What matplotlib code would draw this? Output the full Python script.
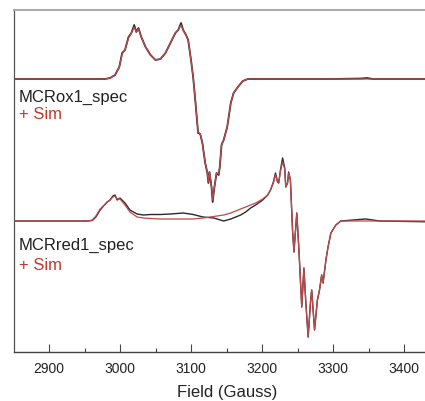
import matplotlib
matplotlib.use("Agg")
import matplotlib.pyplot as plt
import numpy as np

plt.rcParams['font.family'] = ['Liberation Sans', 'DejaVu Sans']

# MCRox1 spectrum (field in Gauss, intensity in arbitrary units)
ox1_field = [2851, 2979, 2986, 2993, 2999, 3003, 3007, 3012, 3016, 3020,
             3023, 3026, 3030, 3036, 3043, 3050, 3057, 3064, 3071, 3078,
             3082, 3086, 3089, 3093, 3096, 3100, 3103, 3106, 3110, 3113,
             3116, 3120, 3123, 3124.5, 3126, 3129, 3130.5, 3133, 3136, 3139,
             3140.5, 3143, 3146, 3151, 3156, 3160, 3166, 3173, 3180, 3300,
             3340, 3348, 3356, 3450]
ox1_exp = [0, 0, 1, 4, 12, 26, 29, 42, 46, 54,
           47, 51, 42, 32, 24, 19, 20, 26, 36, 46,
           49, 56, 49, 44, 39, 19, 2, -21, -54, -55,
           -64, -84, -94, -104, -93, -109, -123, -108, -94, -96,
           -88, -66, -61, -48, -24, -14, -8, -2, 0, 0,
           0.5, 1, 0, 0]
ox1_sim = [0, 0, 1, 4, 12, 25, 29, 41, 46, 52,
           47, 50, 42, 32, 24, 19, 20, 26, 36, 46,
           49, 54, 49, 44, 39, 19, 2, -21, -53, -55,
           -64, -84, -93, -103, -93, -108, -121, -108, -94, -95,
           -88, -66, -61, -48, -24, -14, -8, -2, 0, 0,
           0, 0, 0, 0]

# MCRred1 spectrum
red1_field = [2851, 2955, 2961, 2966, 2972, 2978, 2982, 2986, 2990, 2993,
              2996, 3000, 3007, 3014, 3024, 3033, 3043, 3057, 3071, 3089,
              3103, 3117, 3132, 3146, 3156, 3163, 3170, 3177, 3184, 3191,
              3201, 3208, 3212, 3216, 3219, 3222, 3223.5, 3226, 3229, 3232,
              3233.5, 3236, 3237.5, 3240, 3243, 3245, 3249, 3252, 3256, 3259,
              3261.5, 3265, 3268.5, 3270, 3274, 3278, 3281, 3284, 3286, 3290,
              3293, 3297, 3304, 3311, 3346, 3366, 3450]
red1_exp = [0, 0, 0.5, 4, 11, 16, 19, 21, 25, 26,
            21, 23, 18, 11, 7, 6, 6.5, 6.5, 7, 8,
            6.5, 4, 3, 0, 2, 4, 6, 9, 13, 16,
            21, 26, 31, 39, 48, 39, 38, 51, 63, 53,
            34, 38, 49, 41, -9, -31, 8, -29, -86, -47,
            -79, -116, -79, -69, -109, -79, -69, -54, -62, -39,
            -26, -12, -4, 0, 2, 0, -1]
red1_sim = [0, 0, 1, 5, 12, 16, 19, 21, 24, 25,
            22, 22, 16, 9, 4, 3, 2.5, 2, 2, 2,
            2, 3, 4.5, 6, 8, 10, 12, 14, 16, 18,
            22, 26, 31, 38, 46, 39, 38, 50, 59, 52,
            34, 38, 48, 41, -9, -31, 8, -29, -86, -47,
            -79, -116, -79, -69, -109, -79, -69, -54, -62, -39,
            -26, -12, -4, 0, 0, 0, 0]

xticks = [2900, 3000, 3100, 3200, 3300, 3400]
ox1_offset = 273
red1_offset = 131

fig = plt.figure(figsize=(4.25, 4.01), dpi=100)
# axes runs a little past the right edge of the picture (right spine cut off)
ax = fig.add_axes([14 / 425, 49 / 401, 426 / 425, 342 / 401])

exp_color = '#2a2a2a'
sim_color = '#c0484a'

ax.plot(ox1_field, np.array(ox1_exp) + ox1_offset, color=exp_color, lw=1.3)
ax.plot(ox1_field, np.array(ox1_sim) + ox1_offset, color=sim_color, lw=0.9)
ax.plot(red1_field, np.array(red1_exp) + red1_offset, color=exp_color, lw=1.0)
ax.plot(red1_field, np.array(red1_sim) + red1_offset, color=sim_color, lw=0.9)

ax.set_xlim(2850.7, 3450.7)
ax.set_ylim(0, 342)

# labels
ax.text(0.012, 0.731, 'MCRox1_spec', transform=ax.transAxes, fontsize=12, color='#222222')
ax.text(0.012, 0.680, '+ Sim', transform=ax.transAxes, fontsize=12, color='#c0392b')
ax.text(0.012, 0.298, 'MCRred1_spec', transform=ax.transAxes, fontsize=12, color='#222222')
ax.text(0.012, 0.240, '+ Sim', transform=ax.transAxes, fontsize=12, color='#c0392b')

ax.set_xticks(xticks)
ax.set_xticks([x + 50 for x in [2850] + xticks], minor=True)
ax.set_yticks([])
ax.tick_params(axis='x', which='major', direction='in', length=6, width=0.8,
               color='#444444', labelsize=10, pad=7, labelcolor='#222222')
ax.tick_params(axis='x', which='minor', direction='in', length=3, width=0.8, color='#444444')
ax.set_xlabel('Field (Gauss)', fontsize=12, color='#222222', labelpad=7)

ax.spines['right'].set_visible(False)
ax.spines['top'].set_color('#aaaaaa')
ax.spines['top'].set_linewidth(1.5)
ax.spines['left'].set_color('#555555')
ax.spines['left'].set_linewidth(0.9)
ax.spines['bottom'].set_color('#444444')
ax.spines['bottom'].set_linewidth(1.0)

fig.savefig('out.png', dpi=100)
